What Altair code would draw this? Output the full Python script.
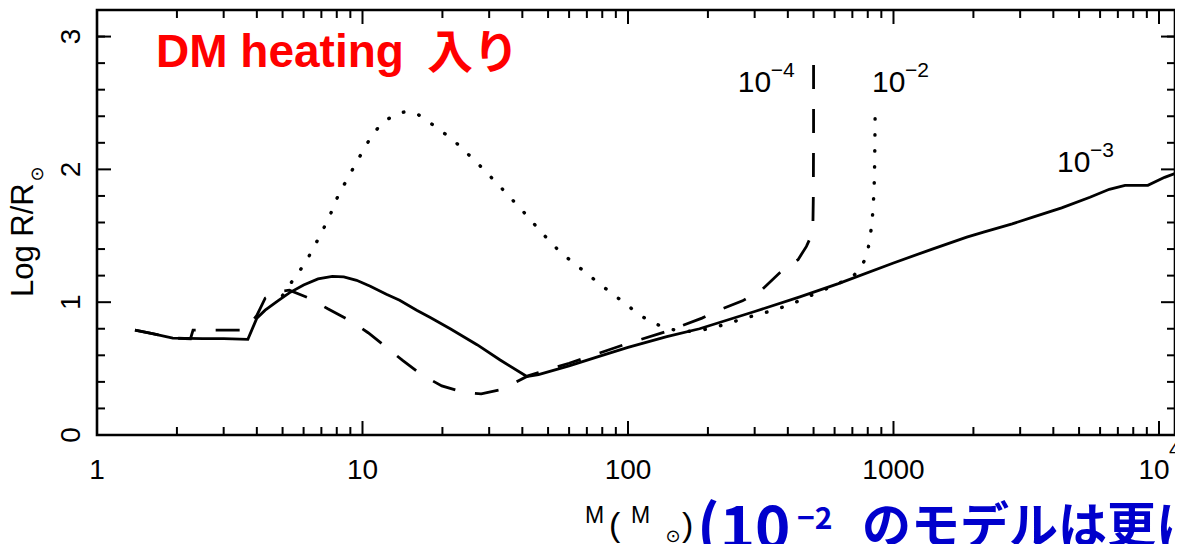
import altair as alt
import pandas as pd

# ---------------- data ----------------
# solid curve (10^-3)
m_solid = [1.39, 1.6, 1.93, 2.5, 3.0, 3.7, 4.0, 4.3, 4.8, 5.3, 6.0, 6.8, 7.7, 8.5, 9.5,
           10.7, 12.3, 13.8, 16.0, 18.0, 21.4, 27.0, 33.0, 41.6, 46.0, 60.0, 80.0, 100.0,
           140.0, 186.0, 300.0, 444.0, 620.0, 1000.0, 1400.0, 1888.0, 2200.0, 2800.0,
           3350.0, 4300.0, 5495.0, 6500.0, 7450.0, 9080.0, 10500.0, 12210.0]
r_solid = [0.79, 0.765, 0.73, 0.725, 0.725, 0.72, 0.88, 0.94, 1.01, 1.07, 1.13, 1.175, 1.195,
           1.19, 1.165, 1.12, 1.06, 1.015, 0.94, 0.885, 0.80, 0.68, 0.565, 0.44, 0.455, 0.52,
           0.60, 0.66, 0.74, 0.80, 0.93, 1.04, 1.14, 1.295, 1.40, 1.49, 1.53, 1.59, 1.64,
           1.71, 1.79, 1.85, 1.88, 1.88, 1.94, 1.99]

# dashed curve (10^-4)
m_dash = [1.39, 1.6, 1.93, 2.25, 2.3, 3.0, 3.6, 3.85, 4.0, 4.3, 4.8, 5.3, 6.3, 7.4, 9.0,
          10.5, 12.3, 14.2, 16.8, 19.9, 24.2, 28.0, 33.0, 38.0, 42.0, 46.0, 60.0, 100.0,
          140.0, 190.0, 226.0, 270.0, 322.0, 372.0, 437.0, 470.0, 490.0, 497.0, 499.0,
          500.0, 500.0]
r_dash = [0.79, 0.765, 0.73, 0.725, 0.79, 0.79, 0.79, 0.86, 0.90, 1.03, 1.08, 1.09, 1.03,
          0.95, 0.86, 0.77, 0.66, 0.56, 0.45, 0.37, 0.32, 0.31, 0.34, 0.40, 0.445, 0.47,
          0.54, 0.69, 0.78, 0.88, 0.95, 1.01, 1.10, 1.22, 1.32, 1.42, 1.50, 1.56, 1.8,
          2.3, 2.92]

# dotted curve (10^-2)
m_dot = [5.0, 5.57, 6.07, 6.5, 7.0, 7.6, 8.2, 8.8, 9.4, 10.05, 10.8, 11.85, 13.2, 14.5,
         16.0, 18.0, 22.0, 27.0, 33.0, 40.0, 48.0, 56.0, 63.0, 70.5, 78.0, 87.6, 98.0,
         109.0, 123.0, 140.0, 165.0, 186.0, 230.0, 276.0, 340.0, 407.0, 528.0, 620.0,
         700.0, 748.0, 794.0, 815.0, 829.0, 838.0, 844.0, 848.0, 851.0, 853.0]
r_dot = [1.05, 1.19, 1.29, 1.40, 1.52, 1.67, 1.83, 1.93, 2.04, 2.14, 2.25, 2.35, 2.41,
         2.435, 2.42, 2.35, 2.22, 2.05, 1.87, 1.69, 1.51, 1.37, 1.29, 1.21, 1.14, 1.06,
         0.99, 0.91, 0.85, 0.80, 0.78, 0.785, 0.83, 0.88, 0.93, 0.98, 1.08, 1.14, 1.19,
         1.25, 1.35, 1.48, 1.59, 1.71, 1.83, 1.95, 2.2, 2.45]

# curve labels
label_base = ["10", "10", "10"]
label_sup = ["\u22124", "\u22122", "\u22123"]
label_m = [259.0, 830.0, 4130.0]
label_r = [2.58, 2.58, 1.98]

# axis ticks and tick labels
x_major = [1, 10, 100, 1000, 10000]
x_labels = ["1", "10", "100", "1000", "10"]
x_minor = [k * 10 ** d for d in range(4) for k in range(2, 10)]
y_major = [0, 1, 2, 3]
y_labels = ["0", "1", "2", "3"]
y_minor = [0.2, 0.4, 0.6, 0.8, 1.2, 1.4, 1.6, 1.8, 2.2, 2.4, 2.6, 2.8, 3.0]

# ---------------- chart ----------------
W, H = 1078, 425
FONT = "Liberation Sans, Arial, DejaVu Sans, sans-serif"
CJK = "Noto Sans CJK JP, sans-serif"
BLUE = "#0000cc"

xs = alt.Scale(type="log", domain=[1, 11490], nice=False)
ys = alt.Scale(domain=[0, 3.2], nice=False, zero=False)

rows = []
for name, ms, rs in [("solid", m_solid, r_solid), ("dash", m_dash, r_dash), ("dot", m_dot, r_dot)]:
    for i, (m, r) in enumerate(zip(ms, rs)):
        rows.append({"model": name, "M": m, "R": r, "i": i})
df = pd.DataFrame(rows)


def curve(name, **kw):
    return alt.Chart(df).transform_filter(alt.datum.model == name).mark_line(
        color="black", clip=True, **kw).encode(
        x=alt.X("M:Q", scale=xs, axis=None),
        y=alt.Y("R:Q", scale=ys, axis=None),
        order="i:Q")


solid = curve("solid", strokeWidth=2.8)
dashed = curve("dash", strokeWidth=2.8, strokeDash=[24, 20])
dotted = curve("dot", strokeWidth=3.4, strokeDash=[0.5, 15.5], strokeCap="round")


def xticks(vals, length):
    d = pd.DataFrame({"v": vals})
    bot = alt.Chart(d).mark_rule(color="black", strokeWidth=2).encode(
        x=alt.X("v:Q", scale=xs, axis=None), y=alt.value(H), y2=alt.value(H - length))
    top = alt.Chart(d).mark_rule(color="black", strokeWidth=2).encode(
        x=alt.X("v:Q", scale=xs, axis=None), y=alt.value(0), y2=alt.value(length))
    return [bot, top]


def yticks(vals, length):
    d = pd.DataFrame({"v": vals})
    left = alt.Chart(d).mark_rule(color="black", strokeWidth=2).encode(
        y=alt.Y("v:Q", scale=ys, axis=None), x=alt.value(0), x2=alt.value(length))
    right = alt.Chart(d).mark_rule(color="black", strokeWidth=2).encode(
        y=alt.Y("v:Q", scale=ys, axis=None), x=alt.value(W), x2=alt.value(W - length))
    return [left, right]


# tick labels
xlab_df = pd.DataFrame({"v": x_major, "t": x_labels})
xlab = alt.Chart(xlab_df).transform_filter(alt.datum.v < 10000).mark_text(
    align="center", baseline="alphabetic", fontSize=28, font=FONT, color="black").encode(
    x=alt.X("v:Q", scale=xs, axis=None), y=alt.value(H + 44), text="t:N")
xlab_last = alt.Chart(xlab_df).transform_filter(alt.datum.v >= 10000).mark_text(
    align="center", baseline="alphabetic", fontSize=28, font=FONT, color="black",
    dx=-5).encode(
    x=alt.X("v:Q", scale=xs, axis=None), y=alt.value(H + 44), text="t:N")
ylab = alt.Chart(pd.DataFrame({"v": y_major, "t": y_labels})).mark_text(
    align="center", baseline="alphabetic", fontSize=28, font=FONT, color="black",
    angle=270).encode(
    y=alt.Y("v:Q", scale=ys, axis=None), x=alt.value(-17), text="t:N")
sup4 = alt.Chart(pd.DataFrame({"v": [10000]})).mark_text(
    text="4", align="left", baseline="alphabetic", fontSize=20, font=FONT, color="black",
    dx=10).encode(x=alt.X("v:Q", scale=xs, axis=None), y=alt.value(H + 21))

lab_df = pd.DataFrame({"M": label_m, "R": label_r, "base": label_base, "sup": label_sup})
lab_base = alt.Chart(lab_df).mark_text(align="left", baseline="alphabetic", fontSize=30,
                                       font=FONT, color="black").encode(
    x=alt.X("M:Q", scale=xs, axis=None), y=alt.Y("R:Q", scale=ys, axis=None), text="base:N")
lab_sup = alt.Chart(lab_df).mark_text(align="left", baseline="alphabetic", fontSize=21,
                                      font=FONT, color="black", dx=33, dy=-15).encode(
    x=alt.X("M:Q", scale=xs, axis=None), y=alt.Y("R:Q", scale=ys, axis=None), text="sup:N")


def txt(text, x, y, size, color="black", font=FONT, weight="normal", angle=0,
        align="left", baseline="alphabetic"):
    return alt.Chart(alt.Data(values=[{"a": 1}])).mark_text(
        text=text, fontSize=size, color=color, font=font, fontWeight=weight, angle=angle,
        align=align, baseline=baseline).encode(x=alt.value(x), y=alt.value(y))


RED_FONT = "Liberation Sans, Noto Sans CJK JP, sans-serif"
texts = [
    # red header
    txt("DM heating", 59, 57, 46, color="#ff0000", font=RED_FONT, weight="bold"),
    txt("\u5165\u308a", 330, 58, 46, color="#ff0000", font=RED_FONT, weight="bold"),
    # y title
    txt("Log R/R", -64, 287, 31, angle=270),
    txt("\u2299", -59, 164, 18, angle=270, align="center", baseline="middle",
        font="DejaVu Sans"),
    # x title
    txt("M", 488, 513, 23),
    txt("(", 512, 526, 34),
    txt("M", 534, 513, 23),
    txt("\u2299", 576, 527, 18, align="center", baseline="middle", font="DejaVu Sans"),
    txt(")", 585, 526, 34),
    # blue note
    txt("(10", 600, 539, 60, color=BLUE, font=CJK, weight="bold"),
    txt("\u22122", 700, 519, 30, color=BLUE, font=CJK, weight="bold"),
    txt("\u306e\u30e2\u30c7\u30eb\u306f\u66f4\u306b", 765, 533, 49, color=BLUE, font=CJK,
        weight="bold"),
]

layers = [solid, dashed, dotted]
layers += xticks(x_major, 14) + xticks(x_minor, 8)
layers += yticks(y_major, 14) + yticks(y_minor, 8)
layers += [xlab, xlab_last, ylab, sup4, lab_base, lab_sup] + texts

chart = alt.layer(*layers).properties(
    width=W, height=H,
    padding={"left": 89, "top": 2, "right": 0, "bottom": 109},
    autosize=alt.AutoSizeParams(type="none"),
    background="white",
).configure_view(stroke="black", strokeWidth=2.6)

chart.save("out.html", embed_options={"renderer": "svg", "actions": False})
